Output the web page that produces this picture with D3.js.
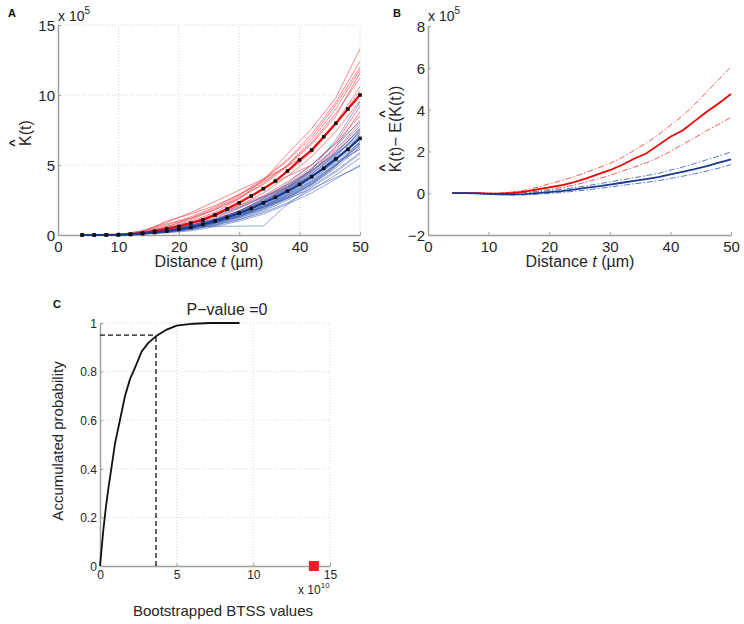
<!DOCTYPE html>
<html>
<head>
<meta charset="utf-8">
<script src="https://cdn.jsdelivr.net/npm/d3@7"></script>
<style>
  body { margin: 0; background: #fff; }
  svg { font-family: "Liberation Sans", Arial, sans-serif; }
  .tick-label { fill: #262626; }
</style>
</head>
<body>
<svg id="fig" width="744" height="624"></svg>
<script>
// ---- data (K values in units of 1e5, BTSS in units of 1e10) ----
const tMean = [4, 6, 8, 10, 12, 14, 16, 18, 20, 22, 24, 26, 28, 30, 32, 34, 36, 38, 40, 42, 44, 46, 48, 50];
const redMean = [0, 0, 0.01, 0.02, 0.06, 0.14, 0.27, 0.44, 0.6, 0.85, 1.07, 1.43, 1.86, 2.3, 2.79, 3.31, 3.86, 4.57, 5.36, 6.07, 7.02, 7.98, 9.0, 10.0];
const blueMean = [0, 0, 0, 0.01, 0.04, 0.1, 0.18, 0.28, 0.4, 0.55, 0.76, 1.0, 1.26, 1.57, 1.9, 2.29, 2.69, 3.14, 3.62, 4.17, 4.76, 5.43, 6.12, 6.9];

const tThin = [4, 10, 14, 18, 22, 26, 30, 34, 38, 42, 46, 50];
const redThin = [
  [0, 0.02, 0.2, 0.6, 1.1, 1.8, 2.6, 3.9, 5.8, 7.6, 9.8, 13.3],
  [0, 0.03, 0.25, 0.7, 1.3, 2.0, 2.9, 4.0, 5.4, 7.2, 9.5, 12.4],
  [0, 0.02, 0.15, 0.6, 1.2, 1.9, 2.8, 3.9, 5.3, 7.0, 9.3, 12.0],
  [0, 0.01, 0.2, 1.0, 1.5, 2.1, 2.9, 3.8, 5.0, 6.8, 9.0, 11.8],
  [0, 0.02, 0.15, 0.5, 1.0, 1.6, 2.6, 3.7, 5.0, 6.6, 8.7, 11.2],
  [0, 0.02, 0.3, 0.9, 1.6, 2.4, 3.2, 4.0, 4.9, 6.0, 8.0, 10.6],
  [0, 0.01, 0.15, 0.5, 0.9, 1.5, 2.3, 3.2, 4.5, 5.9, 7.9, 10.3],
  [0, 0.02, 0.1, 0.5, 0.9, 1.4, 2.1, 3.0, 4.2, 5.6, 7.4, 9.6],
  [0, 0.01, 0.12, 0.4, 0.8, 1.5, 2.4, 3.3, 4.2, 5.0, 6.6, 9.2],
  [0, 0.02, 0.15, 0.45, 0.85, 1.4, 2.1, 2.8, 3.8, 5.0, 6.6, 8.5],
  [0, 0.01, 0.1, 0.35, 0.7, 1.1, 1.7, 2.6, 3.6, 4.8, 6.1, 8.0],
  [0, 0.01, 0.1, 0.4, 0.7, 1.2, 1.9, 2.7, 3.5, 4.6, 5.9, 7.6],
  [0, 0.02, 0.1, 0.3, 0.6, 1.0, 1.6, 2.4, 3.4, 4.5, 6.3, 8.8],
  [0, 0.01, 0.3, 0.8, 1.2, 1.8, 2.7, 3.6, 4.9, 6.5, 8.5, 11.6]
];
const blueThin = [
  [0, 0.01, 0.1, 0.3, 0.6, 1.1, 1.7, 2.5, 3.5, 4.7, 6.3, 8.2],
  [0, 0.02, 0.12, 0.3, 0.55, 0.95, 1.5, 2.2, 3.3, 4.7, 6.8, 9.5],
  [0, 0.01, 0.1, 0.25, 0.55, 1.0, 1.6, 2.4, 3.4, 4.6, 6.0, 7.8],
  [0, 0.02, 0.12, 0.3, 0.6, 1.0, 1.5, 2.2, 3.1, 4.2, 5.6, 7.4],
  [0, 0.01, 0.1, 0.3, 0.5, 0.9, 1.4, 2.1, 3.0, 4.1, 5.4, 7.0],
  [0, 0.02, 0.2, 0.5, 0.9, 1.4, 2.0, 2.7, 3.4, 4.2, 5.3, 6.6],
  [0, 0.01, 0.08, 0.2, 0.45, 0.85, 1.35, 2.0, 2.8, 3.8, 5.1, 6.6],
  [0, 0.01, 0.1, 0.25, 0.5, 0.9, 1.4, 2.0, 2.7, 3.6, 4.8, 6.3],
  [0, 0.02, 0.12, 0.3, 0.55, 0.95, 1.5, 2.2, 3.0, 4.0, 5.2, 6.1],
  [0, 0.01, 0.08, 0.2, 0.4, 0.7, 1.1, 1.7, 2.5, 3.5, 4.6, 5.9],
  [0, 0.01, 0.1, 0.3, 0.6, 0.62, 0.63, 0.65, 2.2, 3.4, 4.5, 5.8],
  [0, 0.01, 0.07, 0.18, 0.38, 0.7, 1.1, 1.6, 2.3, 3.2, 4.3, 5.5],
  [0, 0.01, 0.06, 0.15, 0.3, 0.6, 1.0, 1.5, 2.2, 3.0, 4.0, 5.0],
  [0, 0.02, 0.14, 0.4, 0.7, 1.1, 1.5, 2.0, 2.6, 3.3, 4.1, 4.9],
  [0, 0.01, 0.12, 0.35, 0.65, 1.1, 1.7, 2.4, 3.3, 4.4, 5.8, 7.6],
  [0, 0.01, 0.1, 0.3, 0.6, 1.0, 1.6, 2.3, 3.2, 4.3, 5.7, 7.2],
  [0, 0.02, 0.13, 0.32, 0.6, 1.0, 1.55, 2.3, 3.2, 4.2, 5.5, 7.0],
  [0, 0.01, 0.09, 0.25, 0.5, 0.85, 1.3, 1.9, 2.7, 3.7, 5.0, 6.5],
  [0, 0.01, 0.1, 0.28, 0.52, 0.9, 1.45, 2.1, 2.9, 3.9, 5.3, 7.1],
  [0, 0.02, 0.14, 0.38, 0.7, 1.15, 1.75, 2.5, 3.4, 4.5, 5.9, 7.5],
  [0, 0.01, 0.11, 0.3, 0.55, 0.92, 1.4, 2.05, 2.85, 3.85, 5.05, 6.4],
  [0, 0.01, 0.09, 0.22, 0.42, 0.75, 1.2, 1.8, 2.6, 3.6, 4.9, 6.7],
  [0, 0.02, 0.12, 0.34, 0.62, 1.05, 1.6, 2.35, 3.25, 4.35, 5.75, 7.3],
  [0, 0.01, 0.1, 0.27, 0.5, 0.88, 1.35, 1.95, 2.75, 3.75, 5.0, 6.2],
  [0, 0.02, 0.18, 0.45, 0.8, 1.3, 1.95, 2.75, 3.6, 4.6, 5.8, 7.0],
  [0, 0.01, 0.08, 0.22, 0.45, 0.8, 1.25, 1.85, 2.65, 3.65, 4.95, 6.5],
  [0, 0.01, 0.1, 0.3, 0.6, 1.05, 1.7, 2.6, 3.7, 5.0, 6.5, 8.1],
  [0, 0.02, 0.1, 0.28, 0.5, 0.85, 1.3, 2.0, 2.9, 4.1, 5.6, 7.4]
];

// panel B: K(t) - E(K(t)) with envelopes
const redDiff = [0, 0, 0, -0.02, -0.02, 0.02, 0.08, 0.18, 0.28, 0.38, 0.52, 0.7, 0.9, 1.1, 1.35, 1.65, 1.9, 2.3, 2.7, 3.0, 3.45, 3.9, 4.3, 4.75];
const redHi = [0, 0, 0, 0, 0.01, 0.06, 0.15, 0.28, 0.45, 0.6, 0.78, 0.98, 1.2, 1.42, 1.7, 2.05, 2.4, 2.8, 3.25, 3.7, 4.25, 4.85, 5.45, 6.05];
const redLo = [0, 0, 0, -0.03, -0.04, -0.02, 0.03, 0.1, 0.18, 0.27, 0.38, 0.52, 0.68, 0.85, 1.05, 1.25, 1.45, 1.7, 2.0, 2.33, 2.65, 3.0, 3.3, 3.63];
const blueDiff = [0, 0, -0.01, -0.03, -0.05, -0.06, -0.04, 0, 0.05, 0.1, 0.17, 0.25, 0.33, 0.41, 0.5, 0.59, 0.67, 0.77, 0.9, 1.02, 1.15, 1.3, 1.46, 1.62];
const blueHi = [0, 0, 0, -0.01, -0.02, -0.02, 0.02, 0.07, 0.12, 0.18, 0.26, 0.35, 0.44, 0.54, 0.64, 0.74, 0.84, 0.95, 1.1, 1.25, 1.42, 1.6, 1.78, 1.97];
const blueLo = [0, 0, -0.01, -0.04, -0.07, -0.09, -0.08, -0.05, -0.01, 0.03, 0.09, 0.15, 0.22, 0.3, 0.37, 0.45, 0.52, 0.6, 0.7, 0.81, 0.93, 1.06, 1.2, 1.37];

// panel C: cumulative distribution of bootstrapped BTSS
const cdfX = [0, 0.22, 0.39, 0.57, 0.76, 0.98, 1.3, 1.63, 1.96, 2.28, 2.72, 3.15, 3.7, 4.35, 5.0, 6.1, 7.2, 9.1];
const cdfY = [0, 0.15, 0.245, 0.33, 0.41, 0.505, 0.6, 0.7, 0.77, 0.815, 0.883, 0.918, 0.948, 0.973, 0.989, 0.997, 1.0, 1.0];
const q95 = [3.65, 0.95];
const observedBTSS = 13.95;

const svg = d3.select("#fig");
const axisColor = "#a0a0a0";
const gridColor = "#d4d4d4";

function drawAxes(g, x, y, opts) {
    // grid
    if (opts.grid) {
        g.selectAll(null).data(opts.xTicks.filter(d => d !== x.domain()[0])).enter()
            .append("line")
            .attr("x1", d => x(d)).attr("x2", d => x(d))
            .attr("y1", y.range()[0]).attr("y2", y.range()[1])
            .attr("stroke", gridColor).attr("stroke-dasharray", "1,2");
        g.selectAll(null).data(opts.yTicks.filter(d => d !== y.domain()[0])).enter()
            .append("line")
            .attr("x1", x.range()[0]).attr("x2", x.range()[1])
            .attr("y1", d => y(d)).attr("y2", d => y(d))
            .attr("stroke", gridColor).attr("stroke-dasharray", "1,2");
    }

    const xAxis = d3.axisBottom(x).tickValues(opts.xTicks).tickSizeInner(-3).tickSizeOuter(0)
        .tickFormat(opts.xFormat || (d => d));
    const yAxis = d3.axisLeft(y).tickValues(opts.yTicks).tickSizeInner(-3).tickSizeOuter(0)
        .tickFormat(opts.yFormat || (d => String(d).replace("-", "\u2212")));

    const gx = g.append("g")
        .attr("transform", "translate(0," + y.range()[0] + ")")
        .call(xAxis);
    const gy = g.append("g")
        .attr("transform", "translate(" + x.range()[0] + ",0)")
        .call(yAxis);

    [gx, gy].forEach(a => {
        a.select(".domain").attr("stroke", axisColor).attr("stroke-width", 1.5);
        a.selectAll(".tick line").attr("stroke", axisColor);
        a.selectAll(".tick text")
            .attr("class", "tick-label")
            .attr("font-size", opts.fontSize)
            .attr("font-family", "Liberation Sans, Arial, sans-serif");
    });
    gx.selectAll(".tick text").attr("dy", opts.xDy);
    gy.selectAll(".tick text").attr("x", -3).attr("dy", "0.36em");
}

// ================= Panel A =================
const xA = d3.scaleLinear().domain([0, 50]).range([58, 360]);
const yA = d3.scaleLinear().domain([0, 15]).range([235, 25]);
const gA = svg.append("g");

drawAxes(gA, xA, yA, {
    grid: true, xTicks: [0, 10, 20, 30, 40, 50], yTicks: [0, 5, 10, 15],
    fontSize: 15, xDy: "0.9em"
});

const lineThin = d3.line().x((d, i) => xA(tThin[i])).y(d => yA(d));
const lineMeanA = d3.line().x((d, i) => xA(tMean[i])).y(d => yA(d));

gA.selectAll(".red-thin").data(redThin).enter()
    .append("path").attr("class", "red-thin")
    .attr("d", lineThin)
    .attr("fill", "none").attr("stroke", "#f4424c").attr("stroke-opacity", 0.7).attr("stroke-width", 0.9);

gA.selectAll(".blue-thin").data(blueThin).enter()
    .append("path").attr("class", "blue-thin")
    .attr("d", lineThin)
    .attr("fill", "none").attr("stroke", "#3a5cb2").attr("stroke-opacity", 0.6).attr("stroke-width", 0.9);

gA.append("path").datum(redMean).attr("d", lineMeanA)
    .attr("fill", "none").attr("stroke", "#ee0000").attr("stroke-width", 2);
gA.append("path").datum(blueMean).attr("d", lineMeanA)
    .attr("fill", "none").attr("stroke", "#1a3a90").attr("stroke-width", 2);

[redMean, blueMean].forEach(series => {
    gA.selectAll(null).data(series).enter()
        .append("rect")
        .attr("x", (d, i) => xA(tMean[i]) - 1.8)
        .attr("y", d => yA(d) - 1.8)
        .attr("width", 3.6).attr("height", 3.6)
        .attr("fill", "#111");
});

// exponent
gA.append("text").attr("x", 58).attr("y", 21).attr("font-size", 14).attr("fill", "#262626")
    .text("x 10").append("tspan").attr("dy", -7).attr("font-size", 10).text("5");

// x label
gA.append("text").attr("x", 209).attr("y", 267).attr("text-anchor", "middle")
    .attr("font-size", 16).attr("fill", "#262626")
    .call(t => {
        t.append("tspan").text("Distance ");
        t.append("tspan").attr("font-style", "italic").text("t");
        t.append("tspan").text(" (\u00b5m)");
    });

// y label with hat
const yLabA = gA.append("g").attr("transform", "translate(31,133) rotate(-90)");
yLabA.append("text").attr("x", 0).attr("y", 0).attr("text-anchor", "middle")
    .attr("font-size", 16).attr("fill", "#262626").text("K(t)");
yLabA.append("text").attr("x", -10).attr("y", -13).attr("text-anchor", "middle")
    .attr("font-size", 13).attr("font-weight", "bold").attr("fill", "#111").text("^");

gA.append("text").attr("x", 8).attr("y", 17).attr("font-size", 11).attr("font-weight", "bold")
    .attr("fill", "#111").text("A");

// ================= Panel B =================
const xB = d3.scaleLinear().domain([0, 50]).range([428, 731]);
const yB = d3.scaleLinear().domain([-2, 8]).range([235, 26]);
const gB = svg.append("g");

drawAxes(gB, xB, yB, {
    grid: false, xTicks: [0, 10, 20, 30, 40, 50], yTicks: [-2, 0, 2, 4, 6, 8],
    fontSize: 15, xDy: "0.9em"
});

const lineB = d3.line().x((d, i) => xB(tMean[i])).y(d => yB(d));
const seriesB = [
    { values: redHi, color: "#f25a5a", width: 1, dash: "6,2,1.5,2" },
    { values: redLo, color: "#f25a5a", width: 1, dash: "6,2,1.5,2" },
    { values: blueHi, color: "#5a78c4", width: 1, dash: "6,2,1.5,2" },
    { values: blueLo, color: "#5a78c4", width: 1, dash: "6,2,1.5,2" },
    { values: redDiff, color: "#ee0000", width: 1.8, dash: null },
    { values: blueDiff, color: "#1a3a90", width: 1.8, dash: null }
];
gB.selectAll(".b-line").data(seriesB).enter()
    .append("path").attr("class", "b-line")
    .attr("d", d => lineB(d.values))
    .attr("fill", "none")
    .attr("stroke", d => d.color)
    .attr("stroke-width", d => d.width)
    .attr("stroke-dasharray", d => d.dash);

gB.append("text").attr("x", 428).attr("y", 21).attr("font-size", 14).attr("fill", "#262626")
    .text("x 10").append("tspan").attr("dy", -7).attr("font-size", 10).text("5");

gB.append("text").attr("x", 580).attr("y", 267).attr("text-anchor", "middle")
    .attr("font-size", 16).attr("fill", "#262626")
    .call(t => {
        t.append("tspan").text("Distance ");
        t.append("tspan").attr("font-style", "italic").text("t");
        t.append("tspan").text(" (\u00b5m)");
    });

const yLabB = gB.append("g").attr("transform", "translate(401,129) rotate(-90)");
yLabB.append("text").attr("x", 0).attr("y", 0).attr("text-anchor", "middle")
    .attr("font-size", 16).attr("fill", "#262626").text("K(t)\u2212 E(K(t))");
yLabB.append("text").attr("x", -39).attr("y", -13).attr("text-anchor", "middle")
    .attr("font-size", 13).attr("font-weight", "bold").attr("fill", "#111").text("^");
yLabB.append("text").attr("x", 15).attr("y", -13).attr("text-anchor", "middle")
    .attr("font-size", 13).attr("font-weight", "bold").attr("fill", "#111").text("^");

gB.append("text").attr("x", 393).attr("y", 17).attr("font-size", 11).attr("font-weight", "bold")
    .attr("fill", "#111").text("B");

// ================= Panel C =================
const xC = d3.scaleLinear().domain([0, 15]).range([100, 330]);
const yC = d3.scaleLinear().domain([0, 1]).range([566, 323]);
const gC = svg.append("g");

drawAxes(gC, xC, yC, {
    grid: true, xTicks: [0, 5, 10, 15], yTicks: [0, 0.2, 0.4, 0.6, 0.8, 1],
    fontSize: 12, xDy: "0.85em"
});

const lineC = d3.line().x((d, i) => xC(cdfX[i])).y(d => yC(d));
gC.append("path").datum(cdfY).attr("d", lineC)
    .attr("fill", "none").attr("stroke", "#111").attr("stroke-width", 1.8);

// 95% quantile markers
gC.append("line")
    .attr("x1", xC(0)).attr("x2", xC(q95[0]))
    .attr("y1", yC(q95[1])).attr("y2", yC(q95[1]))
    .attr("stroke", "#111").attr("stroke-width", 1.3).attr("stroke-dasharray", "5,3");
gC.append("line")
    .attr("x1", xC(q95[0])).attr("x2", xC(q95[0]))
    .attr("y1", yC(0)).attr("y2", yC(q95[1]))
    .attr("stroke", "#111").attr("stroke-width", 1.3).attr("stroke-dasharray", "5,3");

// observed statistic
gC.append("rect")
    .attr("x", xC(observedBTSS) - 5).attr("y", yC(0) - 5)
    .attr("width", 10).attr("height", 10)
    .attr("fill", "#ee1c24");

gC.append("text").attr("x", 227).attr("y", 315).attr("text-anchor", "middle")
    .attr("font-size", 16).attr("fill", "#262626").text("P\u2212value =0");

gC.append("text").attr("x", 298).attr("y", 594).attr("font-size", 12).attr("fill", "#262626")
    .text("x 10").append("tspan").attr("dy", -6).attr("font-size", 8).text("10");

gC.append("text").attr("x", 223).attr("y", 616).attr("text-anchor", "middle")
    .attr("font-size", 15).attr("fill", "#262626").text("Bootstrapped BTSS values");

gC.append("text").attr("transform", "translate(63,441) rotate(-90)").attr("text-anchor", "middle")
    .attr("font-size", 15).attr("fill", "#262626").text("Accumulated probability");

gC.append("text").attr("x", 53).attr("y", 308).attr("font-size", 11).attr("font-weight", "bold")
    .attr("fill", "#111").text("C");
</script>
</body>
</html>
